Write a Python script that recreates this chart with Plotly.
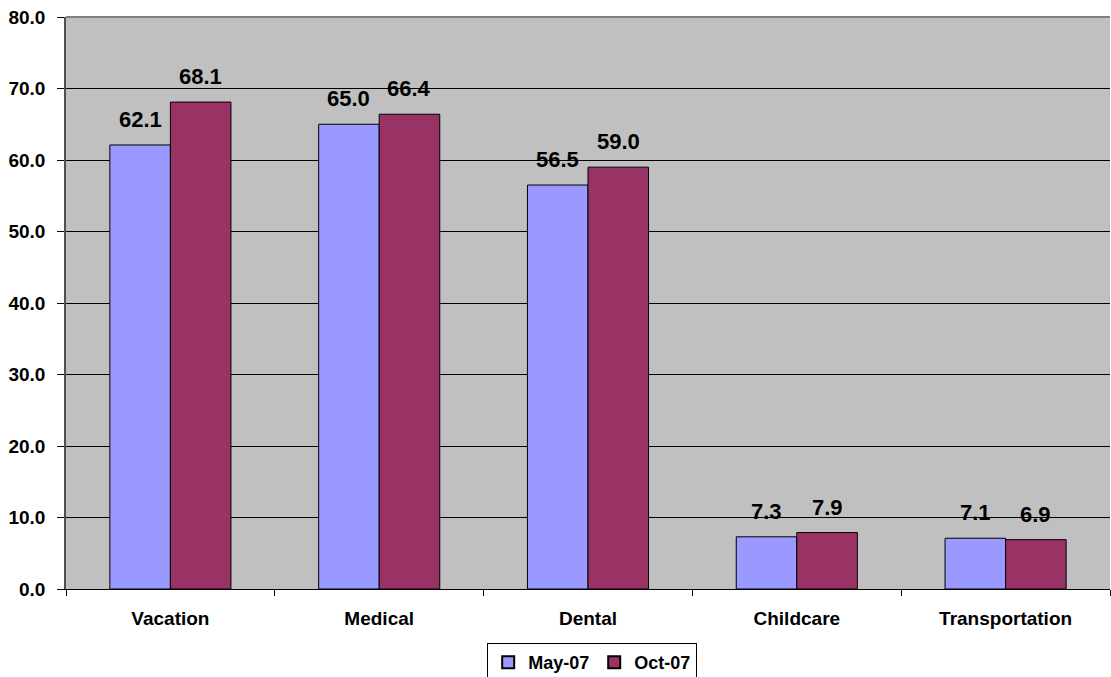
import plotly.graph_objects as go

categories = ["Vacation", "Medical", "Dental", "Childcare", "Transportation"]
may07 = [62.1, 65.0, 56.5, 7.3, 7.1]
oct07 = [68.1, 66.4, 59.0, 7.9, 6.9]
series_names = ["May-07", "Oct-07"]
y_ticks = [0, 10, 20, 30, 40, 50, 60, 70, 80]

FONT = "Liberation Sans, Arial, sans-serif"
BARGAP = 0.42
colors = ["#9999FF", "#993366"]

fig = go.Figure()
for name, vals, color in [(series_names[0], may07, colors[0]), (series_names[1], oct07, colors[1])]:
    fig.add_trace(go.Bar(
        x=categories, y=vals, name=name,
        marker=dict(color=color, line=dict(color="black", width=1)),
    ))

# data labels placed above each bar via annotations
bar_w = (1 - BARGAP) / 2
for s, vals in enumerate([may07, oct07]):
    off = (s - 0.5) * bar_w
    for i, v in enumerate(vals):
        fig.add_annotation(
            x=i + off, y=v, xref="x", yref="y",
            text=f"<b>{v:.1f}</b>", showarrow=False,
            yanchor="bottom", yshift=11,
            font=dict(family=FONT, size=22, color="black"),
        )

fig.update_layout(
    width=1111, height=677,
    margin=dict(l=66, r=1, t=17, b=88, autoexpand=False),
    paper_bgcolor="white", plot_bgcolor="#C0C0C0",
    barmode="group", bargap=BARGAP, bargroupgap=0,
    font=dict(family=FONT, size=19, color="black"),
    showlegend=True,
    legend=dict(
        orientation="h", x=0.504, xref="paper", xanchor="center",
        y=0.05, yref="container", yanchor="top",
        bgcolor="white", bordercolor="black", borderwidth=1,
        font=dict(family=FONT, size=18, color="black", weight="bold"),
        itemsizing="constant", tracegroupgap=0, itemwidth=30,
    ),
)
fig.update_xaxes(
    type="category", tickson="boundaries", ticks="outside", ticklen=6,
    tickcolor="black", showline=True, linecolor="black", linewidth=1,
    showgrid=False, automargin=False, ticklabelstandoff=12,
    tickfont=dict(family=FONT, size=19, color="black", weight="bold"),
)
fig.update_yaxes(
    range=[0, 80], tickvals=y_ticks, ticktext=[f"{v:.1f}" for v in y_ticks],
    ticks="outside", ticklen=7, tickcolor="black",
    showgrid=True, gridcolor="black", gridwidth=1,
    showline=True, linecolor="#505050", linewidth=1.5,
    zeroline=False, automargin=False, ticklabelstandoff=8,
    tickfont=dict(family=FONT, size=19, color="black", weight="bold"),
)
fig.add_shape(type="line", xref="paper", yref="paper", x0=0, x1=1, y0=1, y1=1,
              line=dict(color="#808080", width=2))

fig.write_html(
    "out.html",
    config={"displayModeBar": False},
    post_script="document.body.style.margin='0px';document.body.style.overflow='hidden';",
)
